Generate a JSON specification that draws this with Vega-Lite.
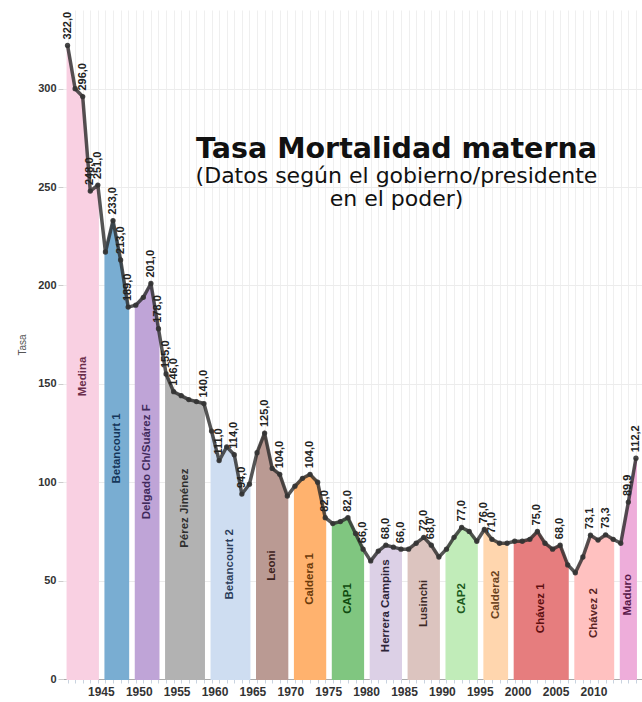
{
  "$schema": "https://vega.github.io/schema/vega-lite/v6.json",
  "width": 579,
  "height": 669,
  "autosize": "none",
  "padding": {"left": 63, "top": 10, "right": 0, "bottom": 23},
  "background": "white",
  "config": {
    "view": {"stroke": null},
    "locale": {"number": {"decimal": ",", "thousands": ".", "grouping": [3], "currency": ["", ""]}},
    "font": "Liberation Sans"
  },
  "title": {
    "text": "Tasa Mortalidad materna",
    "subtitle": ["(Datos según el gobierno/presidente", "en el poder)"],
    "anchor": "middle",
    "frame": "group",
    "font": "DejaVu Sans",
    "fontSize": 28.5,
    "fontWeight": "bold",
    "color": "#111111",
    "subtitleFont": "DejaVu Sans",
    "subtitleFontSize": 22,
    "subtitleColor": "#111111",
    "subtitleLineHeight": 23,
    "subtitlePadding": 3,
    "dx": 44,
    "dy": 204
  },
  "data": {"values": [
    {"anio": 1941, "tasa": 322, "presidente": "Medina", "etiqueta": true},
    {"anio": 1942, "tasa": 300, "presidente": "Medina", "etiqueta": false},
    {"anio": 1943, "tasa": 296, "presidente": "Medina", "etiqueta": true},
    {"anio": 1944, "tasa": 248, "presidente": "Medina", "etiqueta": true},
    {"anio": 1945, "tasa": 251, "presidente": "Medina", "etiqueta": true},
    {"anio": 1946, "tasa": 217, "presidente": "Betancourt 1", "etiqueta": false},
    {"anio": 1947, "tasa": 233, "presidente": "Betancourt 1", "etiqueta": true},
    {"anio": 1948, "tasa": 213, "presidente": "Betancourt 1", "etiqueta": true},
    {"anio": 1949, "tasa": 189, "presidente": "Betancourt 1", "etiqueta": true},
    {"anio": 1950, "tasa": 190, "presidente": "Delgado Ch/Suárez F", "etiqueta": false},
    {"anio": 1951, "tasa": 194, "presidente": "Delgado Ch/Suárez F", "etiqueta": false},
    {"anio": 1952, "tasa": 201, "presidente": "Delgado Ch/Suárez F", "etiqueta": true},
    {"anio": 1953, "tasa": 178, "presidente": "Delgado Ch/Suárez F", "etiqueta": true},
    {"anio": 1954, "tasa": 155, "presidente": "Pérez Jiménez", "etiqueta": true},
    {"anio": 1955, "tasa": 146, "presidente": "Pérez Jiménez", "etiqueta": true},
    {"anio": 1956, "tasa": 144, "presidente": "Pérez Jiménez", "etiqueta": false},
    {"anio": 1957, "tasa": 142, "presidente": "Pérez Jiménez", "etiqueta": false},
    {"anio": 1958, "tasa": 141, "presidente": "Pérez Jiménez", "etiqueta": false},
    {"anio": 1959, "tasa": 140, "presidente": "Pérez Jiménez", "etiqueta": true},
    {"anio": 1960, "tasa": 126, "presidente": "Betancourt 2", "etiqueta": false},
    {"anio": 1961, "tasa": 111, "presidente": "Betancourt 2", "etiqueta": true},
    {"anio": 1962, "tasa": 118, "presidente": "Betancourt 2", "etiqueta": false},
    {"anio": 1963, "tasa": 114, "presidente": "Betancourt 2", "etiqueta": true},
    {"anio": 1964, "tasa": 94, "presidente": "Betancourt 2", "etiqueta": true},
    {"anio": 1965, "tasa": 99, "presidente": "Betancourt 2", "etiqueta": false},
    {"anio": 1966, "tasa": 115, "presidente": "Leoni", "etiqueta": false},
    {"anio": 1967, "tasa": 125, "presidente": "Leoni", "etiqueta": true},
    {"anio": 1968, "tasa": 107, "presidente": "Leoni", "etiqueta": false},
    {"anio": 1969, "tasa": 104, "presidente": "Leoni", "etiqueta": true},
    {"anio": 1970, "tasa": 93, "presidente": "Leoni", "etiqueta": false},
    {"anio": 1971, "tasa": 98, "presidente": "Caldera 1", "etiqueta": false},
    {"anio": 1972, "tasa": 102, "presidente": "Caldera 1", "etiqueta": false},
    {"anio": 1973, "tasa": 104, "presidente": "Caldera 1", "etiqueta": true},
    {"anio": 1974, "tasa": 100, "presidente": "Caldera 1", "etiqueta": false},
    {"anio": 1975, "tasa": 82, "presidente": "Caldera 1", "etiqueta": true},
    {"anio": 1976, "tasa": 79, "presidente": "CAP1", "etiqueta": false},
    {"anio": 1977, "tasa": 80, "presidente": "CAP1", "etiqueta": false},
    {"anio": 1978, "tasa": 82, "presidente": "CAP1", "etiqueta": true},
    {"anio": 1979, "tasa": 74, "presidente": "CAP1", "etiqueta": false},
    {"anio": 1980, "tasa": 66, "presidente": "CAP1", "etiqueta": true},
    {"anio": 1981, "tasa": 60, "presidente": "Herrera Campins", "etiqueta": false},
    {"anio": 1982, "tasa": 65, "presidente": "Herrera Campins", "etiqueta": false},
    {"anio": 1983, "tasa": 68, "presidente": "Herrera Campins", "etiqueta": true},
    {"anio": 1984, "tasa": 67, "presidente": "Herrera Campins", "etiqueta": false},
    {"anio": 1985, "tasa": 66, "presidente": "Herrera Campins", "etiqueta": true},
    {"anio": 1986, "tasa": 66, "presidente": "Lusinchi", "etiqueta": false},
    {"anio": 1987, "tasa": 69, "presidente": "Lusinchi", "etiqueta": false},
    {"anio": 1988, "tasa": 72, "presidente": "Lusinchi", "etiqueta": true},
    {"anio": 1989, "tasa": 68, "presidente": "Lusinchi", "etiqueta": true},
    {"anio": 1990, "tasa": 62, "presidente": "Lusinchi", "etiqueta": false},
    {"anio": 1991, "tasa": 66, "presidente": "CAP2", "etiqueta": false},
    {"anio": 1992, "tasa": 72, "presidente": "CAP2", "etiqueta": false},
    {"anio": 1993, "tasa": 77, "presidente": "CAP2", "etiqueta": true},
    {"anio": 1994, "tasa": 75, "presidente": "CAP2", "etiqueta": false},
    {"anio": 1995, "tasa": 70, "presidente": "CAP2", "etiqueta": false},
    {"anio": 1996, "tasa": 76, "presidente": "Caldera2", "etiqueta": true},
    {"anio": 1997, "tasa": 71, "presidente": "Caldera2", "etiqueta": true},
    {"anio": 1998, "tasa": 69, "presidente": "Caldera2", "etiqueta": false},
    {"anio": 1999, "tasa": 69, "presidente": "Caldera2", "etiqueta": false},
    {"anio": 2000, "tasa": 70, "presidente": "Chávez 1", "etiqueta": false},
    {"anio": 2001, "tasa": 70, "presidente": "Chávez 1", "etiqueta": false},
    {"anio": 2002, "tasa": 71, "presidente": "Chávez 1", "etiqueta": false},
    {"anio": 2003, "tasa": 75, "presidente": "Chávez 1", "etiqueta": true},
    {"anio": 2004, "tasa": 69, "presidente": "Chávez 1", "etiqueta": false},
    {"anio": 2005, "tasa": 66, "presidente": "Chávez 1", "etiqueta": false},
    {"anio": 2006, "tasa": 68, "presidente": "Chávez 1", "etiqueta": true},
    {"anio": 2007, "tasa": 58, "presidente": "Chávez 1", "etiqueta": false},
    {"anio": 2008, "tasa": 54, "presidente": "Chávez 2", "etiqueta": false},
    {"anio": 2009, "tasa": 62, "presidente": "Chávez 2", "etiqueta": false},
    {"anio": 2010, "tasa": 73.1, "presidente": "Chávez 2", "etiqueta": true},
    {"anio": 2011, "tasa": 70.6, "presidente": "Chávez 2", "etiqueta": false},
    {"anio": 2012, "tasa": 73.3, "presidente": "Chávez 2", "etiqueta": true},
    {"anio": 2013, "tasa": 71, "presidente": "Chávez 2", "etiqueta": false},
    {"anio": 2014, "tasa": 69, "presidente": "Maduro", "etiqueta": false},
    {"anio": 2015, "tasa": 89.9, "presidente": "Maduro", "etiqueta": true},
    {"anio": 2016, "tasa": 112.2, "presidente": "Maduro", "etiqueta": true}
  ]},
  "encoding": {
    "x": {
      "field": "anio", "type": "quantitative",
      "scale": {"domain": [1940.4, 2016.8], "nice": false, "zero": false},
      "axis": {
        "title": null,
        "values": [1941,1942,1943,1944,1945,1946,1947,1948,1949,1950,1951,1952,1953,1954,1955,1956,1957,1958,1959,1960,1961,1962,1963,1964,1965,1966,1967,1968,1969,1970,1971,1972,1973,1974,1975,1976,1977,1978,1979,1980,1981,1982,1983,1984,1985,1986,1987,1988,1989,1990,1991,1992,1993,1994,1995,1996,1997,1998,1999,2000,2001,2002,2003,2004,2005,2006,2007,2008,2009,2010,2011,2012,2013,2014,2015,2016],
        "format": "d",
        "labelExpr": "datum.value % 5 === 0 && datum.value <= 2010 ? datum.label : ''",
        "labelFontWeight": "bold",
        "labelFontSize": 12,
        "labelColor": "#333333",
        "labelPadding": 3,
        "labelOffset": 3,
        "labelFlush": false,
        "labelOverlap": false,
        "tickSize": 4,
        "tickColor": "#c9d3df",
        "domainColor": "#aaaaaa",
        "grid": true,
        "gridColor": "#efefef",
        "gridWidth": 1
      }
    },
    "y": {
      "field": "tasa", "type": "quantitative",
      "scale": {"domain": [0, 340], "nice": false},
      "axis": {
        "title": "Tasa",
        "titleFontSize": 10,
        "titleFontWeight": "normal",
        "titleColor": "#555555",
        "titlePadding": 10,
        "values": [0, 50, 100, 150, 200, 250, 300],
        "labelFontWeight": "bold",
        "labelFontSize": 11,
        "labelColor": "#333333",
        "labelPadding": 2,
        "tickSize": 5,
        "tickColor": "#cccccc",
        "domain": false,
        "grid": true,
        "gridColor": "#ececec"
      }
    }
  },
  "layer": [
    {
      "mark": {"type": "area", "strokeWidth": 2, "interpolate": "linear"},
      "encoding": {
        "y": {"field": "tasa", "type": "quantitative", "stack": null},
        "color": {
          "field": "presidente", "type": "nominal", "legend": null,
          "scale": {
            "domain": ["Medina","Betancourt 1","Delgado Ch/Suárez F","Pérez Jiménez","Betancourt 2","Leoni","Caldera 1","CAP1","Herrera Campins","Lusinchi","CAP2","Caldera2","Chávez 1","Chávez 2","Maduro"],
            "range": ["#f9d0e2","#79add2","#bfa4d7","#b2b2b2","#ceddf1","#ba9a93","#ffb26e","#80c680","#dcd0e6","#dcc4bf","#c1ecb9","#ffd6ae","#e67d7e","#ffc1c0","#eeadda"]
          }
        },
        "stroke": {
          "field": "presidente", "type": "nominal", "legend": null,
          "scale": {
            "domain": ["Medina","Betancourt 1","Delgado Ch/Suárez F","Pérez Jiménez","Betancourt 2","Leoni","Caldera 1","CAP1","Herrera Campins","Lusinchi","CAP2","Caldera2","Chávez 1","Chávez 2","Maduro"],
            "range": ["#f9d0e2","#79add2","#bfa4d7","#b2b2b2","#ceddf1","#ba9a93","#ffb26e","#80c680","#dcd0e6","#dcc4bf","#c1ecb9","#ffd6ae","#e67d7e","#ffc1c0","#eeadda"]
          }
        }
      }
    },
    {
      "mark": {"type": "line", "color": "#2b2b2b", "strokeWidth": 3.5, "opacity": 0.8, "strokeJoin": "round"},
      "encoding": {}
    },
    {
      "mark": {"type": "point", "filled": true, "color": "#333333", "size": 28, "opacity": 0.9},
      "encoding": {}
    },
    {
      "transform": [{"filter": "datum.etiqueta"}],
      "mark": {"type": "text", "angle": 270, "align": "left", "baseline": "middle", "dx": 6, "dy": 0, "fontSize": 11, "fontWeight": "bold", "color": "#222222"},
      "encoding": {
        "text": {"field": "tasa", "type": "quantitative", "format": ".1f"}
      }
    },
    {
      "transform": [
        {"aggregate": [{"op": "mean", "field": "anio", "as": "anio"}, {"op": "min", "field": "tasa", "as": "minimo"}], "groupby": ["presidente"]},
        {"calculate": "datum.minimo * 0.62", "as": "tasa"}
      ],
      "mark": {"type": "text", "angle": 270, "align": "center", "baseline": "middle", "fontSize": 11.5, "fontWeight": "bold"},
      "encoding": {
        "text": {"field": "presidente", "type": "nominal"},
        "color": {
          "field": "presidente", "type": "nominal", "legend": null,
          "scale": {
            "domain": ["Medina","Betancourt 1","Delgado Ch/Suárez F","Pérez Jiménez","Betancourt 2","Leoni","Caldera 1","CAP1","Herrera Campins","Lusinchi","CAP2","Caldera2","Chávez 1","Chávez 2","Maduro"],
            "range": ["#6b2d4a","#15365a","#3f2a5c","#2e2e2e","#2c3e5c","#3d221d","#6b3a0a","#0f4a0f","#2d2438","#3d2a27","#1d5a1d","#6a4220","#5e0f10","#5a2424","#5a1a4a"]
          }
        }
      }
    }
  ],
  "resolve": {"scale": {"color": "independent"}}
}
